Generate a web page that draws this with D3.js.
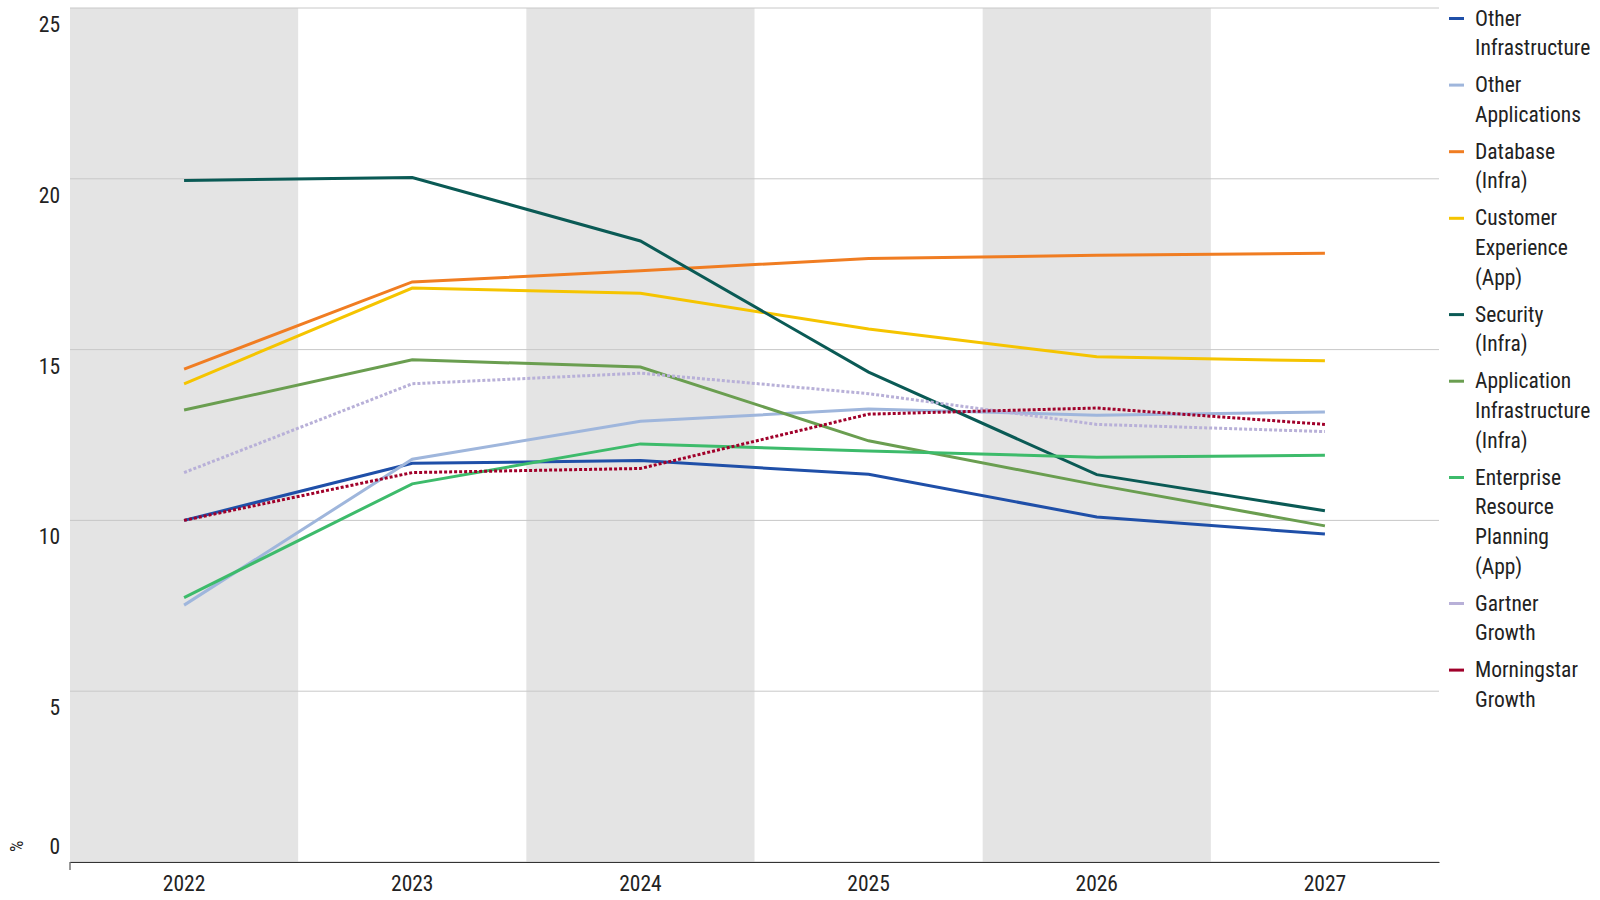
<!DOCTYPE html>
<html><head><meta charset="utf-8">
<script src="https://cdn.jsdelivr.net/npm/d3@7"></script>
<style>body{margin:0;background:#fff}svg{display:block}text{font-family:"Liberation Sans Narrow","Roboto",sans-serif;font-stretch:condensed;fill:#222}</style>
</head><body><svg id="c" width="1600" height="900"></svg>
<script>
const years = ["2022","2023","2024","2025","2026","2027"];
const yTicks = [0,5,10,15,20,25];
const seriesNames = [
  ["Other","Infrastructure"],["Other","Applications"],["Database","(Infra)"],
  ["Customer","Experience","(App)"],["Security","(Infra)"],
  ["Application","Infrastructure","(Infra)"],["Enterprise","Resource","Planning","(App)"],
  ["Gartner","Growth"],["Morningstar","Growth"]];
const colors = ["#1f4fa8","#9fb6dc","#f07d22","#f5c400","#0a5a55","#6a9e50","#3dbb6b","#b8b0d8","#a0002a"];
const dotted = [false,false,false,false,false,false,false,true,true];
const otherInfra = [10.0,11.67,11.75,11.35,10.1,9.6];
const otherApps = [7.52,11.79,12.9,13.26,13.08,13.17];
const database = [14.43,16.98,17.31,17.67,17.76,17.82];
const custExp = [14.0,16.8,16.65,15.6,14.79,14.67];
const security = [19.95,20.04,18.18,14.34,11.34,10.28];
const appInfra = [13.23,14.7,14.49,12.33,11.04,9.84];
const erp = [7.74,11.07,12.24,12.03,11.85,11.91];
const gartner = [11.4,14.0,14.31,13.71,12.81,12.6];
const morningstar = [10.0,11.4,11.52,13.11,13.29,12.81];
const values = [otherInfra,otherApps,database,custExp,security,appInfra,erp,gartner,morningstar];

const svg = d3.select("#c");
const L = 70, R = 1439, T = 8, B = 862;
const x = d3.scaleBand().domain(years).range([L,R]);
const y = d3.scaleLinear().domain([0,25]).range([B,T]);

svg.selectAll("rect.band").data(years.filter((d,i)=>i%2===0)).join("rect")
  .attr("x",d=>x(d)).attr("y",T).attr("width",x.bandwidth()).attr("height",B-T).attr("fill","#e4e4e4");

svg.selectAll("line.grid").data(yTicks).join("line")
  .attr("x1",L).attr("x2",R).attr("y1",d=>y(d)).attr("y2",d=>y(d))
  .attr("stroke","#c8c8c8").attr("stroke-width",1);
svg.selectAll("text.yl").data(yTicks).join("text")
  .attr("x",60).attr("y",d=>d===0?y(d)-8:y(d)+24).attr("text-anchor","end").attr("font-size",21.5).text(d=>d);
svg.append("text").attr("transform",`translate(23,${B-10}) rotate(-90)`).attr("font-size",18).text("%");

const xa = svg.append("g").attr("transform",`translate(0,${B})`)
  .call(d3.axisBottom(x).tickSize(0).tickPadding(10));
xa.select(".domain").attr("stroke","#333");
xa.selectAll("text").attr("font-size",21.5).attr("dy","0.9em");
svg.append("line").attr("x1",L).attr("x2",L).attr("y1",B).attr("y2",B+8).attr("stroke","#333");

const line = d3.line().x((d,i)=>x(years[i])+x.bandwidth()/2).y(d=>y(d));
values.forEach((v,k)=>{
  svg.append("path").attr("d",line(v)).attr("fill","none").attr("stroke",colors[k])
    .attr("stroke-width",3).attr("stroke-dasharray",dotted[k]?"3,2":null);
});

let ly = 18.5;
seriesNames.forEach((lines,k)=>{
  svg.append("line").attr("x1",1449).attr("x2",1464).attr("y1",ly).attr("y2",ly)
    .attr("stroke",colors[k]).attr("stroke-width",3);
  lines.forEach((t,j)=>svg.append("text").attr("x",1475).attr("y",ly+j*29.7+7)
    .attr("font-size",21.5).text(t));
  ly += lines.length*29.7+7.2;
});
</script></body></html>
